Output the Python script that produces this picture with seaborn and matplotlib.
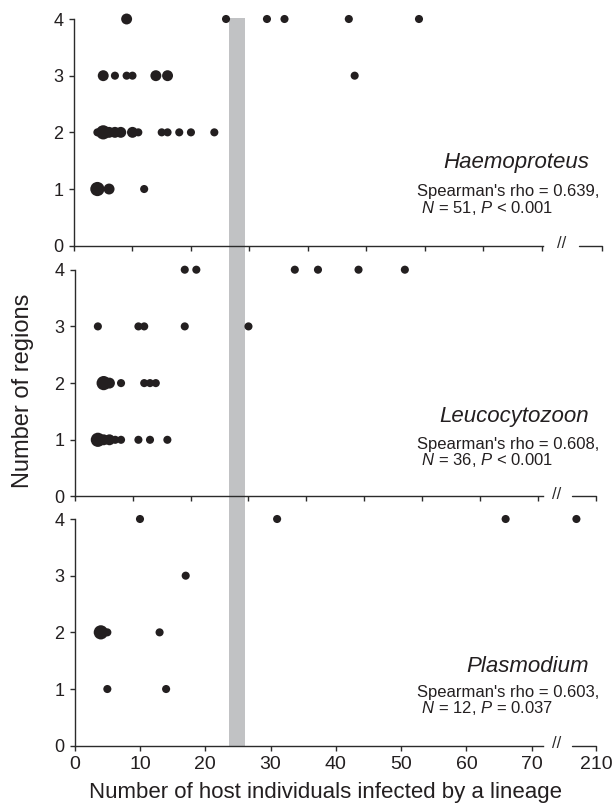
import numpy as np
import pandas as pd
import seaborn as sns
import matplotlib.pyplot as plt
import matplotlib.transforms as mtransforms
from matplotlib.patches import Rectangle

# number of host individuals (x), number of regions (y), lineages stacked at that point (n)
haem_x = [9, 26, 33, 36, 47, 59,
          5, 7, 9, 10, 14, 16, 48,
          4, 5, 6, 7, 8, 10, 11, 15, 16, 18, 20, 24,
          4, 6, 12]
haem_y = [4, 4, 4, 4, 4, 4,
          3, 3, 3, 3, 3, 3, 3,
          2, 2, 2, 2, 2, 2, 2, 2, 2, 2, 2, 2,
          1, 1, 1]
haem_n = [2, 1, 1, 1, 1, 1,
          2, 1, 1, 1, 2, 2, 1,
          1, 3, 2, 2, 2, 2, 1, 1, 1, 1, 1, 1,
          3, 2, 1]

leuc_x = [19, 21, 38, 42, 49, 57,
          4, 11, 12, 19, 30,
          5, 6, 8, 12, 13, 14,
          4, 5, 6, 7, 8, 11, 13, 16]
leuc_y = [4, 4, 4, 4, 4, 4,
          3, 3, 3, 3, 3,
          2, 2, 2, 2, 2, 2,
          1, 1, 1, 1, 1, 1, 1, 1]
leuc_n = [1, 1, 1, 1, 1, 1,
          1, 1, 1, 1, 1,
          3, 2, 1, 1, 1, 1,
          3, 2, 2, 1, 1, 1, 1, 1]

plas_x = [10, 31, 66, 207, 17, 4, 5, 13, 5, 14]
plas_y = [4, 4, 4, 4, 3, 2, 2, 2, 1, 1]
plas_n = [1, 1, 1, 1, 1, 3, 1, 1, 1, 1]

names = ["Haemoproteus", "Leucocytozoon", "Plasmodium"]
stats = ["Spearman's rho = 0.639,\n $N$ = 51, $P$ < 0.001",
         "Spearman's rho = 0.608,\n $N$ = 36, $P$ < 0.001",
         "Spearman's rho = 0.603,\n $N$ = 12, $P$ = 0.037"]
xticks_bottom = [0, 10, 20, 30, 40, 50, 60, 70]
break_label = "210"

sns.set_style("ticks")
plt.rcParams["font.family"] = ["Liberation Sans", "DejaVu Sans"]
plt.rcParams["mathtext.fontset"] = "custom"
plt.rcParams["mathtext.rm"] = "Liberation Sans"
plt.rcParams["mathtext.it"] = "Liberation Sans:italic"

ink = "#231f20"
axc = "#2b2b2b"
sizes = {1: 34, 2: 62, 3: 105}

fig = plt.figure(figsize=(6.13, 8.05), dpi=100)
W, H = 613, 805

# pixel geometry: (left, right, top, bottom, xmax, spine_end, slash_x, seg_start)
panels = [
    (74.0, 602.0, 19.0, 245.7, 90.3, 80.2, 83.4, 86.3),
    (74.7, 596.0, 269.7, 496.5, 90.0, 80.8, 83.2, 85.8),
    (74.7, 596.0, 519.0, 745.7, 79.84, 71.7, 73.8, 76.1),
]
data = [(haem_x, haem_y, haem_n), (leuc_x, leuc_y, leuc_n), (plas_x, plas_y, plas_n)]
text_y = [(168.3, 212.7), (421.7, 465.0), (672.3, 713.3)]

axes = []
for i, (l, r, t, b, xmax, send, slx, sst) in enumerate(panels):
    ax = fig.add_axes([l / W, 1 - b / H, (r - l) / W, (b - t) / H])
    ax.set_facecolor("none")
    xs, ys, ns = data[i]
    xs = np.array(xs, dtype=float)
    if i == 2:
        # values beyond the axis break are placed on the short segment after //
        xs = np.where(xs > 72, xmax - (210 - xs), xs)
    df = pd.DataFrame({"x": xs, "y": ys, "n": ns})
    sns.scatterplot(data=df, x="x", y="y", size="n", sizes=sizes, color=ink,
                    linewidth=0, legend=False, ax=ax, clip_on=False, zorder=3)
    ax.set_xlim(0, xmax)
    ax.set_ylim(0, 4)
    ax.set_yticks([0, 1, 2, 3, 4])
    ax.set_xlabel("")
    ax.set_ylabel("")
    sns.despine(ax=ax)
    for s in ["left", "bottom"]:
        ax.spines[s].set_color(axc)
        ax.spines[s].set_linewidth(1.0)
    ax.spines["bottom"].set_bounds(0, send)
    ax.plot([sst, xmax], [0, 0], color=axc, lw=1.0, clip_on=False, zorder=2.5)
    ax.text(slx, 0.04, "//", fontsize=12, color=axc, ha="center", va="center",
            clip_on=False)
    ax.tick_params(axis="both", direction="out", length=3.5, width=1.0, color=axc)
    ax.tick_params(axis="y", labelsize=13, pad=4, labelcolor=ink)
    ax.tick_params(axis="x", labelsize=14, pad=4, labelcolor=ink)
    if i < 2:
        ax.set_xticks(list(np.arange(0, 81, 10)) + [xmax])
        ax.set_xticklabels([])
    else:
        ax.set_xticks(xticks_bottom + [xmax])
        ax.set_xticklabels([str(v) for v in xticks_bottom] + [break_label])

    tr = mtransforms.blended_transform_factory(fig.transFigure, ax.transAxes)
    yb = lambda p: 1 - (p - t) / (b - t)
    ax.text(589.3 / W, yb(text_y[i][0]), names[i], style="italic", fontsize=16,
            color=ink, ha="right", va="baseline", transform=tr)
    ax.text(417.0 / W, yb(text_y[i][1]), stats[i], fontsize=12, linespacing=0.95,
            color=ink, ha="left", va="baseline", multialignment="left", transform=tr)
    axes.append(ax)

# grey band running through all three panels
ax3 = axes[2]
band_tr = mtransforms.blended_transform_factory(ax3.transData, fig.transFigure)
band = Rectangle((23.6, 1 - 745.7 / H), 26.1 - 23.6, (745.7 - 18.0) / H,
                 transform=band_tr, facecolor="#c1c2c4", edgecolor="none", zorder=-1)
fig.add_artist(band)

fig.text(23 / W, 1 - 391 / H, "Number of regions", rotation=90, fontsize=17,
         color=ink, ha="center", va="center")
fig.text(326 / W, 1 - 798.3 / H, "Number of host individuals infected by a lineage",
         fontsize=16, color=ink, ha="center", va="baseline")

fig.savefig("out.png", dpi=100, facecolor="white")
